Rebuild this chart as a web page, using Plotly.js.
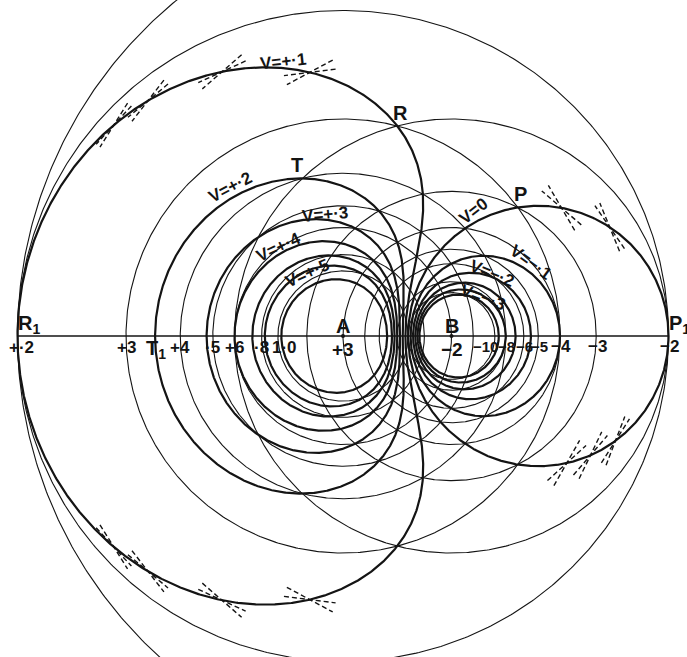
<!DOCTYPE html>
<html><head><meta charset="utf-8">
<script src="https://cdn.plot.ly/plotly-3.0.1.min.js"></script>
<style>html,body{margin:0;padding:0;background:#fff;} #chart{width:687px;height:657px;}</style>
</head><body><div id="chart"></div>
<script>
// ---- data ----
const chargeNames = ['A', 'B'];
const chargeValues = [3, -2];          // charge at A, charge at B
const chargePositions = [0, 5];        // positions on the axis (figure units)
const chargeLabels = ['+3', '−2'];
// thin circles: equipotentials of each charge alone
const circlesA = [0.2, 0.3, 0.4, 0.5, 0.6, 0.8, 1.0];
const circlesB = [-0.1, -0.2, -0.3, -0.4, -0.5, -0.6, -0.8, -1.0];
const tickTextA = ['+·2', '+3', '+4', '·5', '+6', '·8', '1·0'];
const tickTextB = [null, '−2', '−3', '−4', '−5', '−6', '−8', '−10'];
// thick curves: resultant equipotentials
const levelsPos = [0.1, 0.2, 0.3, 0.4, 0.5, 0.6, 0.8];
const levelsNeg = [0, -0.1, -0.2, -0.3, -0.4, -0.5];
const curveLabelText = ['V=+·1', 'V=+·2', 'V=+·3', 'V=+·4', 'V=+·5', 'V=0', 'V=−·1', 'V=−·2', 'V=−·3'];
// construction points (potential of A's circle at the point) with dashed tangents
const constructLevel01 = 0.1;
const construct01 = [0.209, 0.213, 0.224, 0.245];
const constructLevel0 = 0;
const construct0Top = [0.257, 0.226];
const construct0Bottom = [0.253, 0.237, 0.223];
// points named on the figure: [name, A-circle V, B-circle V]
const namedPoints = [['R', 0.3, -0.2], ['T', 0.4, -0.2], ['P', 0.3, -0.3]];

// ---- geometry ----
const A = chargePositions[0], B = chargePositions[1];
const qA = chargeValues[0], qB = chargeValues[1];
const U = 21.7, X0 = 343, Y0 = 336;           // pixel calibration of the page
const px = v => (v - X0) / U, py = v => (Y0 - v) / U;
function V(x, y) { return qA / Math.hypot(x - A, y) + qB / Math.hypot(x - B, y); }

function circle(cx, r, n) {
  const xs = [], ys = [];
  for (let i = 0; i <= n; i++) { const t = 2 * Math.PI * i / n; xs.push(cx + r * Math.cos(t)); ys.push(r * Math.sin(t)); }
  return { xs, ys };
}
function levelCurve(L) {
  const c0 = L > 0 ? A : B, sgn = L > 0 ? 1 : -1;
  const xs = [], ys = [], N = 1440;
  for (let i = 0; i <= N; i++) {
    const t = 2 * Math.PI * i / N, c = Math.cos(t), s = Math.sin(t);
    const g = r => sgn * (V(c0 + r * c, r * s) - L);
    let r0 = 0.005, r1 = null;
    for (let r = 0.02; r < 60; r += 0.02) { if (g(r) < 0) { r1 = r; break; } r0 = r; }
    if (r1 === null) { xs.push(null); ys.push(null); continue; }
    for (let k = 0; k < 40; k++) { const m = (r0 + r1) / 2; if (g(m) > 0) r0 = m; else r1 = m; }
    const r = (r0 + r1) / 2; xs.push(c0 + r * c); ys.push(r * s);
  }
  return { xs, ys };
}
function meet(va, vb, side) {
  const r1 = qA / va, r2 = qB / vb, d = B - A;
  const x = (r1 * r1 - r2 * r2 + d * d) / (2 * d);
  return [A + x, side * Math.sqrt(Math.max(0, r1 * r1 - x * x)), r1, r2];
}

const ink = '#141414';
const traces = [];
circlesA.forEach(v => { const c = circle(A, qA / v, 720); traces.push({ x: c.xs, y: c.ys, mode: 'lines', line: { color: ink, width: 1.1 }, hoverinfo: 'skip' }); });
circlesB.forEach(v => { const c = circle(B, qB / v, 720); traces.push({ x: c.xs, y: c.ys, mode: 'lines', line: { color: ink, width: 1.1 }, hoverinfo: 'skip' }); });
levelsPos.concat(levelsNeg).forEach(L => {
  const c = levelCurve(L);
  traces.push({ x: c.xs, y: c.ys, mode: 'lines', line: { color: ink, width: 2.2 }, hoverinfo: 'skip' });
});
// axis line from R1 to P1
const xR1 = A - qA / circlesA[0], xP1 = B + qB / circlesB[1];
traces.push({ x: [xR1, xP1], y: [0, 0], mode: 'lines', line: { color: ink, width: 1.3 }, hoverinfo: 'skip' });
traces.push({ x: chargePositions, y: [0, 0], mode: 'markers', marker: { color: ink, size: 4 }, hoverinfo: 'skip' });

// dashed construction tangents
function tangents(L, vals, side) {
  const xs = [], ys = [], h = 1.2;
  vals.forEach(a => {
    const [x, y] = meet(a, L - a, side);
    [A, B].forEach(cx => {
      const r = Math.hypot(x - cx, y), tx = -y / r, ty = (x - cx) / r;
      xs.push(x - h * tx, x + h * tx, null); ys.push(y - h * ty, y + h * ty, null);
    });
  });
  traces.push({ x: xs, y: ys, mode: 'lines', line: { color: ink, width: 1.4, dash: '5px,3px' }, hoverinfo: 'skip' });
}
tangents(constructLevel01, construct01, 1);
tangents(constructLevel01, construct01, -1);
tangents(constructLevel0, construct0Top, 1);
tangents(constructLevel0, construct0Bottom, -1);

// ---- annotations ----
const fam = '"Liberation Sans Narrow", "Liberation Sans", Arial, sans-serif';
const ann = [];
function lab(text, x, y, size, angle, extra) {
  ann.push(Object.assign({ text: '<b>' + text + '</b>', x, y, xref: 'x', yref: 'y', showarrow: false, textangle: angle || 0,
    xanchor: 'center', yanchor: 'middle', font: { family: fam, size, color: ink } }, extra || {}));
}
circlesA.forEach((v, i) => { lab(tickTextA[i], A - qA / v, 0, 17, 0, { yshift: -11, xshift: i === 6 ? 7 : (i === 0 ? 4 : 0) }); });
circlesB.forEach((v, i) => { if (tickTextB[i]) lab(tickTextB[i], B + qB / v, 0, i >= 4 ? 15 : 17, 0, { yshift: -10, xshift: i === 7 ? -9 : 1 }); });
chargeNames.forEach((n, i) => { lab(n, chargePositions[i], 0, 20, 0, { yshift: 10 }); lab(chargeLabels[i], chargePositions[i], 0, 19, 0, { yshift: -13 }); });
namedPoints.forEach(p => { const [x, y] = meet(p[1], p[2], 1); lab(p[0], x, y, 20, 0, { yshift: 13, xshift: p[0] === 'R' ? 3 : (p[0] === 'T' ? -5 : 3) }); });
lab('R<sub>1</sub>', xR1, 0, 20, 0, { yshift: 12, xshift: 11 });
lab('P<sub>1</sub>', xP1, 0, 20, 0, { yshift: 12, xshift: 11 });
lab('T<sub>1</sub>', px(156), 0, 20, 0, { yshift: -13 });
const curvePos = [[283, 61, -6], [230, 187, -28], [325, 214, -5], [278, 247, -25], [307, 273, -24], [473, 211, -38], [531, 262, 36], [492, 273, 22], [483, 297, 20]];
curveLabelText.forEach((t, i) => { const p = curvePos[i]; lab(t, px(p[0]), py(p[1]), 17, p[2]); });

Plotly.newPlot('chart', traces, {
  width: 687, height: 657, margin: { l: 0, r: 0, t: 0, b: 0 },
  paper_bgcolor: '#ffffff', plot_bgcolor: '#ffffff', showlegend: false,
  xaxis: { range: [px(0), px(687)], visible: false, fixedrange: true },
  yaxis: { range: [py(657), py(0)], visible: false, fixedrange: true },
  annotations: ann
}, { staticPlot: true });
</script></body></html>
